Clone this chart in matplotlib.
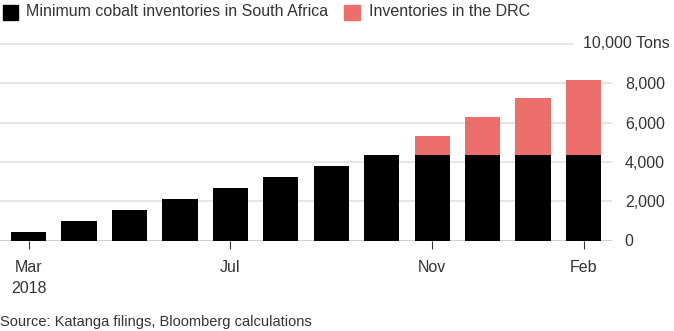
import matplotlib
matplotlib.use("Agg")
import matplotlib.pyplot as plt
import matplotlib.transforms as mtransforms
from matplotlib.patches import Rectangle
import numpy as np

plt.rcParams['font.family'] = ['Liberation Sans', 'DejaVu Sans']

months = ["Mar", "Apr", "May", "Jun", "Jul", "Aug", "Sep", "Oct", "Nov", "Dec", "Jan", "Feb"]
south_africa = [430, 1000, 1570, 2130, 2690, 3250, 3810, 4370, 4370, 4370, 4370, 4370]
drc = [0, 0, 0, 0, 0, 0, 0, 0, 940, 1920, 2860, 3810]
tick_months = ["Mar", "Jul", "Nov", "Feb"]
y_ticks = [0, 2000, 4000, 6000, 8000]
y_tick_labels = ["0", "2,000", "4,000", "6,000", "8,000"]
top_label = "10,000 Tons"
legend_labels = ["Minimum cobalt inventories in South Africa", "Inventories in the DRC"]
source = "Source: Katanga filings, Bloomberg calculations"

BLACK = "#000000"
SALMON = "#ec6f6b"
GRID = "#e3e3e3"
TXT = "#333333"
FS = 11.5

W, H = 674, 331
fig = plt.figure(figsize=(W / 100, H / 100), dpi=100)
ax = fig.add_axes([0, (H - 240.5) / H, 612.3 / W, (240.5 - 44) / H])

x = np.arange(len(months))
ax.bar(x, south_africa, width=0.70, color=BLACK, zorder=3)
ax.bar(x, drc, width=0.70, bottom=south_africa, color=SALMON, zorder=3)

ax.set_xlim(-0.565, 11.57)
ax.set_ylim(0, 10000)

for s in ax.spines.values():
    s.set_visible(False)

# gridlines
for yv in y_ticks[1:]:
    ax.axhline(yv, color=GRID, lw=1.3, zorder=1)
ax.plot([0, 572 / 612.3], [10000, 10000], transform=mtransforms.blended_transform_factory(ax.transAxes, ax.transData),
        color=GRID, lw=1.3, clip_on=False, zorder=1)
ax.axhline(0, color="#000000", lw=1.0, zorder=4)

# y tick labels on right
ax.yaxis.tick_right()
ax.set_yticks(y_ticks)
ax.set_yticklabels(y_tick_labels)
ax.tick_params(axis='y', length=0, pad=9, labelsize=FS, labelcolor=TXT)
ax.text(583 / 612.3, 10000, top_label, transform=mtransforms.blended_transform_factory(ax.transAxes, ax.transData),
        ha='left', va='center', fontsize=FS, color=TXT)

# x ticks
tick_pos = [months.index(m) for m in tick_months]
ax.set_xticks(tick_pos)
ax.set_xticklabels(tick_months)
ax.tick_params(axis='x', length=6, width=0.8, color="#333333", pad=8, labelsize=FS, labelcolor=TXT)
ax.text(0, -0.245, "2018", transform=mtransforms.blended_transform_factory(ax.transData, ax.transAxes),
        ha='center', va='center', fontsize=FS, color=TXT)

# legend
fig.patches.append(Rectangle((3 / W, 1 - 20 / H), 15 / W, 15 / H, transform=fig.transFigure, color=BLACK))
fig.text(26 / W, 1 - 12 / H, legend_labels[0], ha='left', va='center', fontsize=FS, color=TXT)
fig.patches.append(Rectangle((344 / W, 1 - 20 / H), 16 / W, 15 / H, transform=fig.transFigure, color=SALMON))
fig.text(369 / W, 1 - 12 / H, legend_labels[1], ha='left', va='center', fontsize=FS, color=TXT)

fig.text(0, 1 - 322 / H, source, ha='left', va='center', fontsize=10.5, color=TXT)

fig.savefig("out.png", dpi=100)
